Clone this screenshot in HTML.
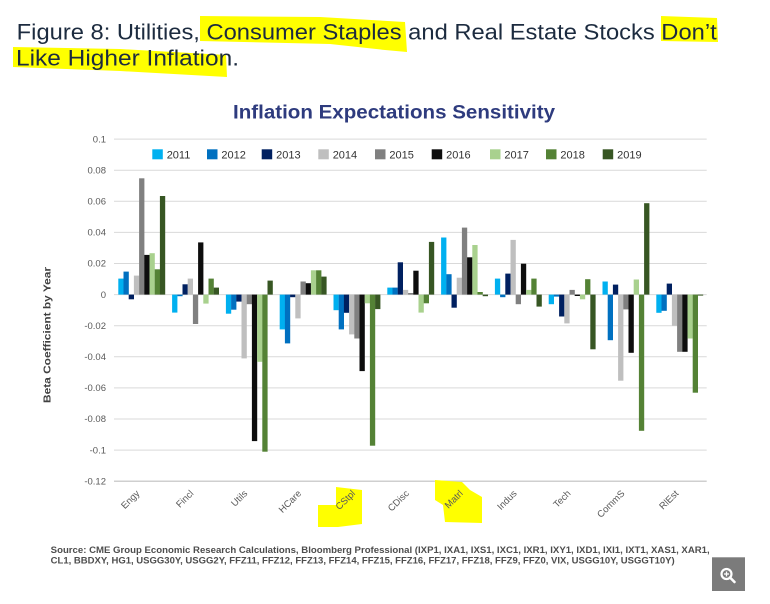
<!DOCTYPE html>
<html><head><meta charset="utf-8"><style>
html,body{margin:0;padding:0;background:#fff;}
svg{display:block;}
.t{font-family:"Liberation Sans",sans-serif;}
.c0{fill:#00b0f0}.c1{fill:#0070c0}.c2{fill:#002060}.c3{fill:#bfbfbf}.c4{fill:#808080}.c5{fill:#0d0d0d}.c6{fill:#a9d18e}.c7{fill:#548235}.c8{fill:#375623}
</style></head><body>
<svg width="770" height="604" viewBox="0 0 770 604" xmlns="http://www.w3.org/2000/svg">
<rect width="770" height="604" fill="#fff"/>
<!-- highlights -->
<polygon points="200,16 320,17 405,22 407,52 385,50 330,44 200,41" fill="#ffff00"/>
<polygon points="661,16 717,18 718,42 661,41" fill="#ffff00"/>
<polygon points="13,47 120,49 226,55 227,77 120,71 13,67" fill="#ffff00"/>
<!-- title -->
<text class="t" x="16.7" y="39.3" font-size="22" fill="#1c2b3f" textLength="700" lengthAdjust="spacingAndGlyphs">Figure 8: Utilities, Consumer Staples and Real Estate Stocks Don’t</text>
<text class="t" x="16" y="65.7" font-size="22" fill="#1c2b3f" textLength="223" lengthAdjust="spacingAndGlyphs">Like Higher Inflation.</text>
<text class="t" x="233" y="118.3" font-size="19" font-weight="bold" fill="#2e3b7e" textLength="322" lengthAdjust="spacingAndGlyphs">Inflation Expectations Sensitivity</text>
<!-- gridlines -->
<g stroke="#d9d9d9" stroke-width="1">
<line x1="114" x2="706.7" y1="139.1" y2="139.1"/>
<line x1="114" x2="706.7" y1="170.2" y2="170.2"/>
<line x1="114" x2="706.7" y1="201.3" y2="201.3"/>
<line x1="114" x2="706.7" y1="232.4" y2="232.4"/>
<line x1="114" x2="706.7" y1="263.5" y2="263.5"/>
<line x1="114" x2="706.7" y1="294.6" y2="294.6"/>
<line x1="114" x2="706.7" y1="325.7" y2="325.7"/>
<line x1="114" x2="706.7" y1="356.8" y2="356.8"/>
<line x1="114" x2="706.7" y1="387.9" y2="387.9"/>
<line x1="114" x2="706.7" y1="419.0" y2="419.0"/>
<line x1="114" x2="706.7" y1="450.1" y2="450.1"/>
<line x1="114" x2="706.7" y1="481.2" y2="481.2" stroke="#cfcfcf" stroke-width="1.5"/>
</g>
<!-- y tick labels -->
<g class="t" font-size="9.5" fill="#595959" text-anchor="end">
<text x="106" y="142.3">0.1</text>
<text x="106" y="173.4">0.08</text>
<text x="106" y="204.5">0.06</text>
<text x="106" y="235.6">0.04</text>
<text x="106" y="266.7">0.02</text>
<text x="106" y="297.8">0</text>
<text x="106" y="328.9">-0.02</text>
<text x="106" y="360.0">-0.04</text>
<text x="106" y="391.1">-0.06</text>
<text x="106" y="422.2">-0.08</text>
<text x="106" y="453.3">-0.1</text>
<text x="106" y="484.4">-0.12</text>
</g>
<text class="t" transform="translate(50.5,335) rotate(-90)" font-size="10.5" font-weight="bold" fill="#404040" text-anchor="middle" textLength="136" lengthAdjust="spacingAndGlyphs">Beta Coefficient by Year</text>
<!-- legend -->
<g class="t" font-size="11" fill="#333">
<rect class="c0" x="152.3" y="149.3" width="10.5" height="10"/><text x="166.7" y="158.3">2011</text>
<rect class="c1" x="207" y="149.3" width="10.5" height="10"/><text x="221.4" y="158.3">2012</text>
<rect class="c2" x="261.7" y="149.3" width="10.5" height="10"/><text x="276.1" y="158.3">2013</text>
<rect class="c3" x="318.3" y="149.3" width="10.5" height="10"/><text x="332.7" y="158.3">2014</text>
<rect class="c4" x="375" y="149.3" width="10.5" height="10"/><text x="389.4" y="158.3">2015</text>
<rect class="c5" x="431.7" y="149.3" width="10.5" height="10"/><text x="446.1" y="158.3">2016</text>
<rect class="c6" x="490" y="149.3" width="10.5" height="10"/><text x="504.4" y="158.3">2017</text>
<rect class="c7" x="546" y="149.3" width="10.5" height="10"/><text x="560.4" y="158.3">2018</text>
<rect class="c8" x="602.7" y="149.3" width="10.5" height="10"/><text x="617.1" y="158.3">2019</text>
</g>
<!-- bars -->
<g transform="translate(118.3,0)">
<rect class="c0" x="0" y="278.6" width="5.3" height="16.0"/>
<rect class="c1" x="5.2" y="271.6" width="5.3" height="23.0"/>
<rect class="c2" x="10.4" y="294.6" width="5.3" height="4.7"/>
<rect class="c3" x="15.6" y="275.6" width="5.3" height="19.0"/>
<rect class="c4" x="20.8" y="178.3" width="5.3" height="116.3"/>
<rect class="c5" x="26.0" y="254.9" width="5.3" height="39.7"/>
<rect class="c6" x="31.2" y="253.2" width="5.3" height="41.4"/>
<rect class="c7" x="36.4" y="269.3" width="5.3" height="25.3"/>
<rect class="c8" x="41.6" y="196.0" width="5.3" height="98.6"/>
</g>
<g transform="translate(172.1,0)">
<rect class="c0" x="0" y="294.6" width="5.3" height="18.0"/>
<rect class="c1" x="5.2" y="294.6" width="5.3" height="1.6"/>
<rect class="c2" x="10.4" y="284.3" width="5.3" height="10.3"/>
<rect class="c3" x="15.6" y="278.6" width="5.3" height="16.0"/>
<rect class="c4" x="20.8" y="294.6" width="5.3" height="29.4"/>
<rect class="c5" x="26.0" y="242.4" width="5.3" height="52.2"/>
<rect class="c6" x="31.2" y="294.6" width="5.3" height="9.0"/>
<rect class="c7" x="36.4" y="278.6" width="5.3" height="16.0"/>
<rect class="c8" x="41.6" y="287.6" width="5.3" height="7.0"/>
</g>
<g transform="translate(225.9,0)">
<rect class="c0" x="0" y="294.6" width="5.3" height="19.1"/>
<rect class="c1" x="5.2" y="294.6" width="5.3" height="15.1"/>
<rect class="c2" x="10.4" y="294.6" width="5.3" height="7.0"/>
<rect class="c3" x="15.6" y="294.6" width="5.3" height="63.8"/>
<rect class="c4" x="20.8" y="294.6" width="5.3" height="9.6"/>
<rect class="c5" x="26.0" y="294.6" width="5.3" height="146.5"/>
<rect class="c6" x="31.2" y="294.6" width="5.3" height="67.2"/>
<rect class="c7" x="36.4" y="294.6" width="5.3" height="157.1"/>
<rect class="c8" x="41.6" y="280.6" width="5.3" height="14.0"/>
</g>
<g transform="translate(279.7,0)">
<rect class="c0" x="0" y="294.6" width="5.3" height="34.8"/>
<rect class="c1" x="5.2" y="294.6" width="5.3" height="48.8"/>
<rect class="c2" x="10.4" y="294.6" width="5.3" height="2.6"/>
<rect class="c3" x="15.6" y="294.6" width="5.3" height="23.8"/>
<rect class="c4" x="20.8" y="281.5" width="5.3" height="13.1"/>
<rect class="c5" x="26.0" y="283.2" width="5.3" height="11.4"/>
<rect class="c6" x="31.2" y="270.3" width="5.3" height="24.3"/>
<rect class="c7" x="36.4" y="270.3" width="5.3" height="24.3"/>
<rect class="c8" x="41.6" y="276.6" width="5.3" height="18.0"/>
</g>
<g transform="translate(333.5,0)">
<rect class="c0" x="0" y="294.6" width="5.3" height="15.6"/>
<rect class="c1" x="5.2" y="294.6" width="5.3" height="34.8"/>
<rect class="c2" x="10.4" y="294.6" width="5.3" height="18.2"/>
<rect class="c3" x="15.6" y="294.6" width="5.3" height="39.8"/>
<rect class="c4" x="20.8" y="294.6" width="5.3" height="43.9"/>
<rect class="c5" x="26.0" y="294.6" width="5.3" height="76.5"/>
<rect class="c6" x="31.2" y="294.6" width="5.3" height="8.7"/>
<rect class="c7" x="36.4" y="294.6" width="5.3" height="151.1"/>
<rect class="c8" x="41.6" y="294.6" width="5.3" height="14.5"/>
</g>
<g transform="translate(387.3,0)">
<rect class="c0" x="0" y="287.6" width="5.3" height="7.0"/>
<rect class="c1" x="5.2" y="287.6" width="5.3" height="7.0"/>
<rect class="c2" x="10.4" y="262.3" width="5.3" height="32.3"/>
<rect class="c3" x="15.6" y="289.9" width="5.3" height="4.7"/>
<rect class="c4" x="20.8" y="293.0" width="5.3" height="1.6"/>
<rect class="c5" x="26.0" y="270.7" width="5.3" height="23.9"/>
<rect class="c6" x="31.2" y="294.6" width="5.3" height="18.0"/>
<rect class="c7" x="36.4" y="294.6" width="5.3" height="8.7"/>
<rect class="c8" x="41.6" y="241.9" width="5.3" height="52.7"/>
</g>
<g transform="translate(441.1,0)">
<rect class="c0" x="0" y="237.5" width="5.3" height="57.1"/>
<rect class="c1" x="5.2" y="274.2" width="5.3" height="20.4"/>
<rect class="c2" x="10.4" y="294.6" width="5.3" height="13.1"/>
<rect class="c3" x="15.6" y="277.7" width="5.3" height="16.9"/>
<rect class="c4" x="20.8" y="227.6" width="5.3" height="67.0"/>
<rect class="c5" x="26.0" y="257.3" width="5.3" height="37.3"/>
<rect class="c6" x="31.2" y="245.0" width="5.3" height="49.6"/>
<rect class="c7" x="36.4" y="292.0" width="5.3" height="2.6"/>
<rect class="c8" x="41.6" y="294.6" width="5.3" height="1.6"/>
</g>
<g transform="translate(494.9,0)">
<rect class="c0" x="0" y="278.6" width="5.3" height="16.0"/>
<rect class="c1" x="5.2" y="294.6" width="5.3" height="2.6"/>
<rect class="c2" x="10.4" y="273.6" width="5.3" height="21.0"/>
<rect class="c3" x="15.6" y="239.9" width="5.3" height="54.7"/>
<rect class="c4" x="20.8" y="294.6" width="5.3" height="9.6"/>
<rect class="c5" x="26.0" y="263.7" width="5.3" height="30.9"/>
<rect class="c6" x="31.2" y="289.9" width="5.3" height="4.7"/>
<rect class="c7" x="36.4" y="278.6" width="5.3" height="16.0"/>
<rect class="c8" x="41.6" y="294.6" width="5.3" height="12.0"/>
</g>
<g transform="translate(548.7,0)">
<rect class="c0" x="0" y="294.6" width="5.3" height="9.6"/>
<rect class="c1" x="5.2" y="294.6" width="5.3" height="2.0"/>
<rect class="c2" x="10.4" y="294.6" width="5.3" height="21.9"/>
<rect class="c3" x="15.6" y="294.6" width="5.3" height="28.8"/>
<rect class="c4" x="20.8" y="289.9" width="5.3" height="4.7"/>
<rect class="c5" x="26.0" y="294.6" width="5.3" height="1.4"/>
<rect class="c6" x="31.2" y="294.6" width="5.3" height="4.7"/>
<rect class="c7" x="36.4" y="279.2" width="5.3" height="15.4"/>
<rect class="c8" x="41.6" y="294.6" width="5.3" height="54.7"/>
</g>
<g transform="translate(602.5,0)">
<rect class="c0" x="0" y="281.5" width="5.3" height="13.1"/>
<rect class="c1" x="5.2" y="294.6" width="5.3" height="45.6"/>
<rect class="c2" x="10.4" y="284.6" width="5.3" height="10.0"/>
<rect class="c3" x="15.6" y="294.6" width="5.3" height="86.1"/>
<rect class="c4" x="20.8" y="294.6" width="5.3" height="14.8"/>
<rect class="c5" x="26.0" y="294.6" width="5.3" height="58.2"/>
<rect class="c6" x="31.2" y="279.5" width="5.3" height="15.1"/>
<rect class="c7" x="36.4" y="294.6" width="5.3" height="136.2"/>
<rect class="c8" x="41.6" y="203.2" width="5.3" height="91.4"/>
</g>
<g transform="translate(656.3,0)">
<rect class="c0" x="0" y="294.6" width="5.3" height="18.2"/>
<rect class="c1" x="5.2" y="294.6" width="5.3" height="16.2"/>
<rect class="c2" x="10.4" y="283.6" width="5.3" height="11.0"/>
<rect class="c3" x="15.6" y="294.6" width="5.3" height="31.1"/>
<rect class="c4" x="20.8" y="294.6" width="5.3" height="57.2"/>
<rect class="c5" x="26.0" y="294.6" width="5.3" height="57.2"/>
<rect class="c6" x="31.2" y="294.6" width="5.3" height="43.9"/>
<rect class="c7" x="36.4" y="294.6" width="5.3" height="98.1"/>
<rect class="c8" x="41.6" y="294.6" width="5.3" height="1.0"/>
</g>
<!-- x-axis labels -->
<polygon points="336,487 362,490 362,524 338,527 318,527 318,505 336,505" fill="#ffff00"/>
<polygon points="435,480 462,482 470,490 482,497 482,523 445,522 443,505 435,500" fill="#ffff00"/>
<g class="t" font-size="9.5" fill="#595959" text-anchor="end">
<text transform="translate(140.2,494) rotate(-45)">Engy</text>
<text transform="translate(194.1,494) rotate(-45)">Fincl</text>
<text transform="translate(248.0,494) rotate(-45)">Utils</text>
<text transform="translate(301.9,494) rotate(-45)">HCare</text>
<text transform="translate(355.8,494) rotate(-45)">CStpl</text>
<text transform="translate(409.6,494) rotate(-45)">CDisc</text>
<text transform="translate(463.5,494) rotate(-45)">Matrl</text>
<text transform="translate(517.4,494) rotate(-45)">Indus</text>
<text transform="translate(571.3,494) rotate(-45)">Tech</text>
<text transform="translate(625.2,494) rotate(-45)">CommS</text>
<text transform="translate(679.1,494) rotate(-45)">RlEst</text>
</g>
<!-- source -->
<g class="t" font-size="9" font-weight="bold" fill="#4d4d4d">
<text x="50.7" y="553" textLength="659" lengthAdjust="spacingAndGlyphs">Source: CME Group Economic Research Calculations, Bloomberg Professional (IXP1, IXA1, IXS1, IXC1, IXR1, IXY1, IXD1, IXI1, IXT1, XAS1, XAR1,</text>
<text x="50.7" y="563.5" textLength="624" lengthAdjust="spacingAndGlyphs">CL1, BBDXY, HG1, USGG30Y, USGG2Y, FFZ11, FFZ12, FFZ13, FFZ14, FFZ15, FFZ16, FFZ17, FFZ18, FFZ9, FFZ0, VIX, USGG10Y, USGGT10Y)</text>
</g>
<!-- zoom icon -->
<rect x="712" y="557.3" width="33" height="33.7" fill="#7b7b7b"/>
<circle cx="726.5" cy="574" r="5" fill="none" stroke="#fff" stroke-width="2.2"/>
<line x1="730" y1="577.5" x2="734.5" y2="582" stroke="#fff" stroke-width="2.6" stroke-linecap="round"/>
<line x1="724" y1="574" x2="729" y2="574" stroke="#fff" stroke-width="1.3"/>
<line x1="726.5" y1="571.5" x2="726.5" y2="576.5" stroke="#fff" stroke-width="1.3"/>
</svg>
</body></html>
